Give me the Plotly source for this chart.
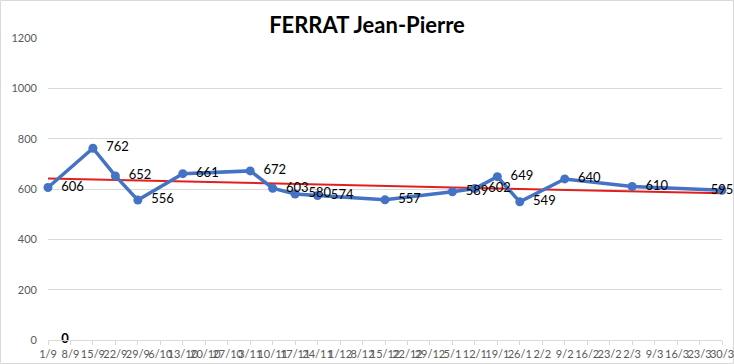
import numpy as np
import plotly.graph_objects as go

title = "FERRAT Jean-Pierre"
categories = ["1/9", "8/9", "15/9", "22/9", "29/9", "6/10", "13/10", "20/10", "27/10",
              "3/11", "10/11", "17/11", "24/11", "1/12", "8/12", "15/12", "22/12", "29/12",
              "5/1", "12/1", "19/1", "26/1", "2/2", "9/2", "16/2", "23/2", "2/3", "9/3",
              "16/3", "23/3", "30/3"]
values = [606, None, 762, 652, 556, None, 661, None, None, 672, 603, 580, 574, None, None,
          557, None, None, 589, 602, 649, 549, None, 640, None, None, 610, None, None, None, 595]
zero_series = [0] + [None] * 30
yticks = [0, 200, 400, 600, 800, 1000, 1200]

# linear trend (as the spreadsheet trendline) over category index
idx = np.array([i for i, v in enumerate(values) if v is not None], dtype=float)
vals = np.array([v for v in values if v is not None], dtype=float)
slope, intercept = np.polyfit(idx, vals, 1)
trend = [intercept + slope * i for i in range(len(categories))]

font = "Lato, 'Liberation Sans', sans-serif"
pad = "\u00a0\u00a0"
last = len(categories) - 1

labels = []
positions = []
for i, v in enumerate(values):
    if v is None:
        labels.append("")
        positions.append("middle right")
    elif i == last:
        labels.append(str(v))
        positions.append("middle center")
    else:
        labels.append(pad + str(v))
        positions.append("middle right")

fig = go.Figure()
fig.add_trace(go.Scatter(
    x=categories, y=trend, mode="lines",
    line=dict(color="#E0201E", width=2), hoverinfo="skip", showlegend=False))
fig.add_trace(go.Scatter(
    x=categories, y=values, mode="lines+markers+text", connectgaps=True,
    line=dict(color="#4472C4", width=3.5),
    marker=dict(color="#4472C4", size=9),
    text=labels, textposition=positions,
    textfont=dict(family=font, size=13, color="#000000"),
    cliponaxis=False, showlegend=False))
fig.add_trace(go.Scatter(
    x=categories, y=zero_series, mode="text",
    text=[pad + pad + "<b>0</b>" if v is not None else "" for v in zero_series],
    textposition="middle right",
    textfont=dict(family=font, size=13, color="#000000"),
    cliponaxis=False, showlegend=False))

W, H = 734, 364
L, R, T, B = 48, 12, 38, 24
pw, ph = W - L - R, H - T - B

fig.update_layout(
    width=W, height=H,
    margin=dict(l=L, r=R, t=T, b=B, autoexpand=False),
    paper_bgcolor="white", plot_bgcolor="white",
    title=dict(text="<b>" + title + "</b>", x=0.5, xref="container", xanchor="center",
               y=1 - 25 / H, yref="container", yanchor="middle",
               font=dict(family=font, size=22, color="#000000")),
    font=dict(family=font),
    xaxis=dict(type="category", range=[0, last], automargin=False,
               tickmode="array", tickvals=categories, ticktext=categories,
               tickangle=0, showgrid=False, showline=True, linecolor="#D9D9D9",
               ticks="outside", ticklen=4, tickcolor="#D9D9D9",
               tickfont=dict(family=font, size=11, color="#595959")),
    yaxis=dict(range=[0, 1200], tickvals=yticks, showgrid=True, gridcolor="#D9D9D9",
               automargin=False,
               zeroline=False, showline=False, ticklabelstandoff=10,
               tickfont=dict(family=font, size=11, color="#595959")),
    shapes=[dict(type="rect", xref="paper", yref="paper",
                 x0=-(L - 0.5) / pw, x1=1 + (R - 0.5) / pw,
                 y0=-(B - 0.5) / ph, y1=1 + (T - 0.5) / ph,
                 line=dict(color="#D9D9D9", width=1), layer="below")],
)

fig.write_html("out.html", config={"displayModeBar": False},
               post_script="document.body.style.margin='0';document.body.style.padding='0';")
